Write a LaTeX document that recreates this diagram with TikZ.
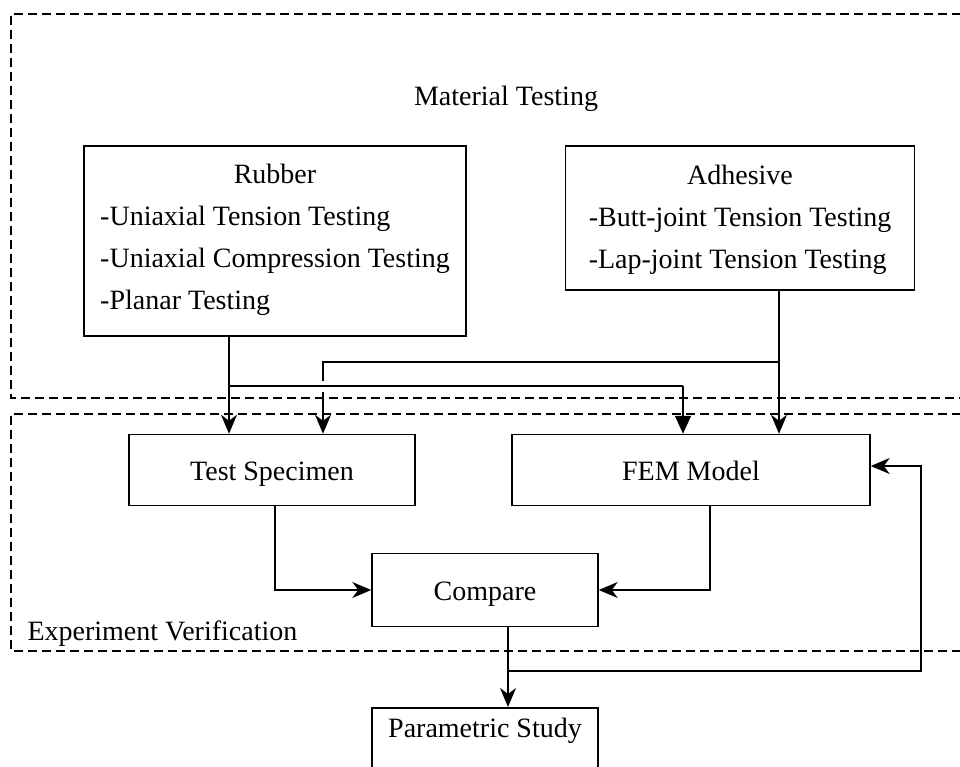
\documentclass[tikz,border=0pt]{standalone}
\usepackage{fontspec}
\setmainfont{Liberation Serif}
\usetikzlibrary{arrows.meta}

\begin{document}
\begin{tikzpicture}[x=1pt,y=-1pt,
  font=\fontsize{28}{34}\selectfont,
  box/.style={draw, line width=1.5pt, inner sep=0pt},
  group/.style={draw, line width=1.5pt, dash pattern=on 9pt off 5pt},
  link/.style={line width=1.5pt},
  arr/.style={link, -{Stealth[length=19pt,width=16pt,inset=6pt]}},
  tri/.style={link, -{Triangle[length=18pt,width=16pt]}}]
\useasboundingbox (0,0) rectangle (960,767);
\clip (0,0) rectangle (960,767);
\renewcommand{\arraystretch}{1.235}

% Group frames
\draw[group] (975,14) -- (11,14) -- (11,398) -- (975,398);
\draw[group] (975,414) -- (11,414) -- (11,651) -- (975,651);
\node (mattest) at (506,99) {Material Testing};
\node[anchor=west] (expver) at (24,634) {Experiment Verification};

% Material tests
\node[box, minimum width=382pt, minimum height=190pt] (rubber) at (275,241)
  {\begin{tabular}{@{}l@{}}\multicolumn{1}{@{}c@{}}{Rubber}\\
   -Uniaxial Tension Testing\\ -Uniaxial Compression Testing\\ -Planar Testing\\[6pt]\end{tabular}};
\node[box, minimum width=349pt, minimum height=144pt] (adhesive) at (740,218)
  {\begin{tabular}{@{}l@{}}\multicolumn{1}{@{}c@{}}{Adhesive}\\
   -Butt-joint Tension Testing\\ -Lap-joint Tension Testing\end{tabular}};

% Verification
\node[box, minimum width=286pt, minimum height=71pt, text height=20pt, text depth=0pt] (test) at (272,470) {Test Specimen};
\node[box, minimum width=358pt, minimum height=71pt, text height=20pt, text depth=0pt] (fem) at (691,470) {FEM Model};
\node[box, minimum width=226pt, minimum height=73pt, text height=20pt, text depth=0pt] (compare) at (485,590) {Compare};
\node[box, anchor=north, minimum width=226pt, text height=20pt, text depth=80pt,
  inner ysep=10pt] (param) at (485,707) {Parametric Study};

% Rubber data
\coordinate (rsplit) at (229,386);
\coordinate (rturn) at (683,386);
\draw[arr] (rubber.south -| rsplit) -- (test.north -| rsplit);
\draw[link] (rsplit) -- (rturn);
\draw[tri] (rturn) -- (fem.north -| rturn);

% Adhesive data
\coordinate (asplit) at (779,362);
\coordinate (aturn) at (323,362);
\coordinate (ajump) at (323,392);
\draw[arr] (adhesive.south -| asplit) -- (fem.north -| asplit);
\draw[link] (asplit) -- (aturn) -- ++(0,19);
\draw[arr] (ajump) -- (test.north -| ajump);

% Comparison
\coordinate (tturn) at (275,590);
\coordinate (fturn) at (710,590);
\draw[arr] (test.south -| tturn) -- (tturn) -- (compare.west);
\draw[arr] (fem.south -| fturn) -- (fturn) -- (compare.east);

% Study and feedback
\coordinate (csplit) at (508,671);
\coordinate (fback) at (921,466);
\draw[arr] (compare.south -| csplit) -- (param.north -| csplit);
\draw[arr] (csplit) -- (csplit -| fback) -- (fback) -- (fem.east |- fback);
\end{tikzpicture}
\end{document}
